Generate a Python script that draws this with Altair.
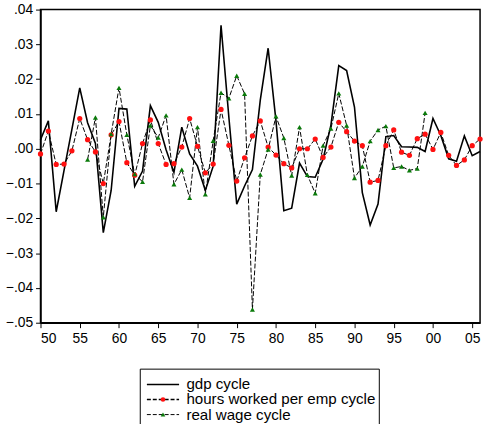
import altair as alt
import pandas as pd

years = list(range(1950, 2007))
gdp = [0.0026, 0.0080, -0.0181, -0.0062, 0.0056, 0.0175, 0.0075, 0.0015, -0.0241, -0.0120,
       0.0116, 0.0114, -0.0108, -0.0064, 0.0124, 0.0076, -0.0003, -0.0068, 0.0062, -0.0015,
       -0.0050, -0.0120, -0.0050, 0.0355, 0.0090, -0.0159, -0.0107, -0.0060, 0.0140, 0.0289,
       0.0080, -0.0178, -0.0171, -0.0041, -0.0080, -0.0082, -0.0030, 0.0068, 0.0239, 0.0225,
       0.0120, -0.0126, -0.0219, -0.0159, 0.0035, 0.0038, 0.0006, 0.0005, 0.0004, -0.0008,
       0.0087, 0.0038, -0.0029, -0.0036, 0.0037, -0.0020, -0.0008]
hours = [-0.0015, 0.0051, -0.0045, -0.0044, -0.0006, 0.0087, 0.0026, -0.0009, -0.0100, 0.0040,
         0.0078, -0.0040, -0.0076, 0.0015, 0.0083, 0.0015, -0.0045, -0.0043, 0.0005, 0.0087,
         0.0007, -0.0069, -0.0044, 0.0113, 0.0010, -0.0093, -0.0026, 0.0037, 0.0080, 0.0005,
         -0.0018, -0.0043, -0.0055, 0.0000, 0.0000, 0.0028, -0.0025, 0.0005, 0.0076, 0.0049,
         0.0022, 0.0009, -0.0096, -0.0091, 0.0009, 0.0054, -0.0010, -0.0019, 0.0029, 0.0042,
         -0.0002, 0.0047, -0.0019, -0.0048, -0.0032, 0.0009, 0.0028]
wage_years = list(range(1956, 2000))
wage = [-0.0031, 0.0090, -0.0197, 0.0042, 0.0175, 0.0040, -0.0073, -0.0095, 0.0067, 0.0032,
        0.0096, -0.0102, -0.0060, -0.0141, 0.0062, -0.0131, 0.0023, 0.0161, 0.0145, 0.0210,
        0.0158, -0.0462, -0.0074, -0.0002, 0.0093, 0.0031, -0.0077, 0.0062, -0.0075, -0.0128,
        0.0009, 0.0058, 0.0159, 0.0067, -0.0084, -0.0051, 0.0022, 0.0054, 0.0065, -0.0055,
        -0.0051, -0.0062, -0.0057, 0.0103]
series_names = ["gdp cycle", "hours worked per emp cycle", "real wage cycle"]
y_ticks = [-0.05, -0.04, -0.03, -0.02, -0.01, 0.0, 0.01, 0.02, 0.03, 0.04]
x_ticks = [1950, 1955, 1960, 1965, 1970, 1975, 1980, 1985, 1990, 1995, 2000, 2005]

df_gdp = pd.DataFrame({"year": years, "value": gdp})
df_hours = pd.DataFrame({"year": years, "value": hours})
df_wage = pd.DataFrame({"year": wage_years, "value": wage})
legend_df = pd.DataFrame({"series": series_names})

FONT = "Liberation Sans"
RED = "#ff1010"
GREEN = "#0a7a0a"

x_enc = alt.X("year:Q",
              scale=alt.Scale(domain=[1950, 2006], nice=False, zero=False),
              axis=alt.Axis(values=x_ticks, labelExpr="substring(toString(datum.value), 2)",
                            title=None, grid=False, tickSize=5, labelPadding=4,
                            domainColor="black", tickColor="black", labelColor="black",
                            domainWidth=1.5, labelFontSize=14, labelFont=FONT))
y_enc = alt.Y("value:Q",
              scale=alt.Scale(domain=[-0.05, 0.04], nice=False, zero=False),
              axis=alt.Axis(values=y_ticks,
                            labelExpr="replace(format(datum.value, '.2f'), '0.', '.')",
                            title=None, grid=False, tickSize=5, labelPadding=3,
                            domainColor="black", tickColor="black", labelColor="black",
                            domainWidth=1.5, labelFontSize=14, labelFont=FONT))

gdp_line = alt.Chart(df_gdp).mark_line(color="black", strokeWidth=1.6).encode(x=x_enc, y=y_enc)
hours_line = alt.Chart(df_hours).mark_line(color="black", strokeWidth=1, strokeDash=[5, 2]).encode(x=x_enc, y=y_enc)
wage_line = alt.Chart(df_wage).mark_line(color="black", strokeWidth=1, strokeDash=[5, 2]).encode(x=x_enc, y=y_enc)
hours_pts = alt.Chart(df_hours).mark_point(shape="circle", filled=True, color=RED, size=28, opacity=1).encode(x=x_enc, y=y_enc)
wage_pts = alt.Chart(df_wage).mark_point(shape="triangle-up", filled=True, color=GREEN, size=26, opacity=1).encode(x=x_enc, y=y_enc)

main = alt.layer(gdp_line, hours_line, wage_line, hours_pts, wage_pts)

leg_scale = alt.Scale(type="point", domain=series_names, range=[379.5, 410], padding=0)
leg_y = alt.Y("series:N", scale=leg_scale, axis=None)

leg_box = alt.Chart(legend_df).transform_aggregate(n="count()").mark_rect(
    fill="white", fillOpacity=0, stroke="black", strokeWidth=1).encode(
    x=alt.value(101), x2=alt.value(343), y=alt.value(364), y2=alt.value(430))
leg_rules = alt.Chart(legend_df).mark_rule(color="black").encode(
    x=alt.value(107.7), x2=alt.value(140.3), y=leg_y,
    strokeDash=alt.StrokeDash("series:N", scale=alt.Scale(domain=series_names, range=[[1, 0], [4, 2], [4, 2]]), legend=None),
    strokeWidth=alt.StrokeWidth("series:N", scale=alt.Scale(domain=series_names, range=[1.6, 1, 1]), legend=None))
leg_red = alt.Chart(legend_df).transform_filter(alt.datum.series == series_names[1]).mark_point(
    shape="circle", filled=True, color=RED, size=22, opacity=1).encode(x=alt.value(124), y=leg_y)
leg_green = alt.Chart(legend_df).transform_filter(alt.datum.series == series_names[2]).mark_point(
    shape="triangle-up", filled=True, color=GREEN, size=22, opacity=1).encode(x=alt.value(124), y=leg_y)
leg_text = alt.Chart(legend_df).mark_text(align="left", baseline="middle", fontSize=15.3, font=FONT, color="black").encode(
    x=alt.value(147.7), y=leg_y, text="series:N")

legend = alt.layer(leg_box, leg_rules, leg_red, leg_green, leg_text)

chart = alt.layer(main, legend).resolve_scale(y="independent", strokeDash="independent").properties(
    width=445, height=317,
    padding={"left": 5, "top": 0, "right": 1, "bottom": 0},
    background="white",
).configure_view(stroke="black", strokeWidth=1.5)

chart.save("out.html", embed_options={"renderer": "svg", "actions": False})
